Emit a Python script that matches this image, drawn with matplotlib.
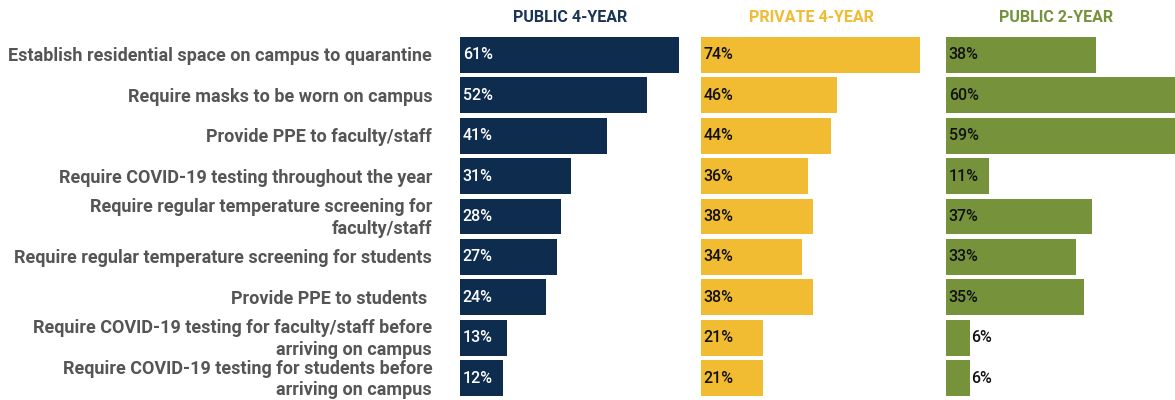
import matplotlib
matplotlib.use("Agg")
import matplotlib.pyplot as plt

plt.rcParams['font.family'] = ['Roboto', 'DejaVu Sans']

# datos del grafico
acciones = [
    "Establish residential space on campus to quarantine",
    "Require masks to be worn on campus",
    "Provide PPE to faculty/staff",
    "Require COVID-19 testing throughout the year",
    "Require regular temperature screening for\nfaculty/staff",
    "Require regular temperature screening for students",
    "Provide PPE to students ",
    "Require COVID-19 testing for faculty/staff before\narriving on campus",
    "Require COVID-19 testing for students before\narriving on campus",
]
publica_4 = [61, 52, 41, 31, 28, 27, 24, 13, 12]
privada_4 = [74, 46, 44, 36, 38, 34, 38, 21, 21]
publica_2 = [38, 60, 59, 11, 37, 33, 35, 6, 6]

titulos = ["PUBLIC 4-YEAR", "PRIVATE 4-YEAR", "PUBLIC 2-YEAR"]
colores = ["#0D2C4E", "#F1BB32", "#76933C"]
colores_titulo = ["#1B3557", "#F1BB32", "#76933C"]
colores_texto = ["white", "#111111", "#111111"]

W, H = 1175, 400
fig = plt.figure(figsize=(W / 100, H / 100), dpi=100)

# posiciones de los paneles en pixeles: (izquierda, ancho, xmax)
paneles = [(460, 219, 61), (701, 219, 74), (946, 229, 58)]
top_px, bot_px = 34.8, 398.2

filas = list(range(len(acciones)))
series = [publica_4, privada_4, publica_2]

for i, (izq, ancho, xmax) in enumerate(paneles):
    ax = fig.add_axes([izq / W, 1 - bot_px / H, ancho / W, (bot_px - top_px) / H])
    ax.barh(filas, series[i], height=0.89, color=colores[i])
    ax.set_xlim(0, xmax)
    ax.set_ylim(len(acciones) - 0.5, -0.5)
    ax.axis("off")
    for fila, v in zip(filas, series[i]):
        if v < 8:
            ax.annotate(f"{v}%", (v, fila), xytext=(1, 0), textcoords="offset points",
                        va="center", ha="left", fontsize=11.5, color="#111111",
                        fontweight="medium")
        else:
            ax.annotate(f"{v}%", (0, fila), xytext=(2, 0), textcoords="offset points",
                        va="center", ha="left", fontsize=11.5, color=colores_texto[i],
                        fontweight="medium")
    cx = (izq + 110) / W
    fig.text(cx, 1 - 18 / H, titulos[i], ha="center", va="center",
             fontsize=11.5, fontweight="bold", color=colores_titulo[i])

# etiquetas de la izquierda
ax0 = fig.axes[0]
for fila, texto in zip(filas, acciones):
    ax0.annotate(texto, (0, fila), xytext=(-20, -1), textcoords="offset points",
                 ha="right", va="center", multialignment="right", fontsize=13,
                 fontweight="bold", color="#555555", linespacing=1.25,
                 annotation_clip=False)

plt.savefig("out.png", dpi=100)
plt.close()
